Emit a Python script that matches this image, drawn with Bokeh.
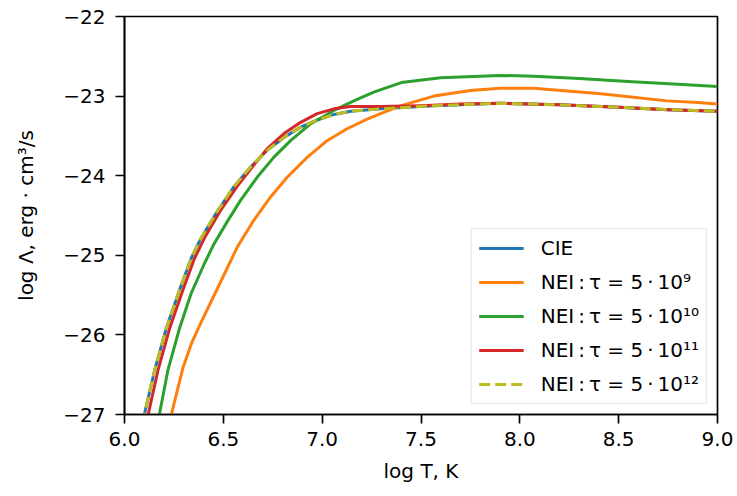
from bokeh.plotting import figure
from bokeh.models import FixedTicker, Range1d, Legend, LegendItem
from bokeh.embed import file_html
from bokeh.resources import INLINE

# ---- data ----
t_cie = [6.090, 6.152, 6.211, 6.278, 6.337, 6.384, 6.469, 6.553, 6.638, 6.722,
         6.807, 6.891, 6.975, 7.060, 7.144, 7.296, 7.565, 7.900, 8.200, 8.500, 8.750, 9.000]
l_cie = [-27.11, -26.45, -25.92, -25.44, -25.04, -24.80, -24.45, -24.14, -23.89, -23.68,
         -23.52, -23.39, -23.30, -23.23, -23.19, -23.16, -23.12, -23.09, -23.11, -23.14, -23.17, -23.19]

t_nei9 = [6.226, 6.295, 6.340, 6.388, 6.489, 6.570, 6.654, 6.738, 6.823, 6.924, 7.025, 7.126,
          7.228, 7.295, 7.400, 7.565, 7.750, 7.900, 8.070, 8.410, 8.745, 8.900, 9.000]
l_nei9 = [-27.11, -26.42, -26.10, -25.84, -25.32, -24.90, -24.56, -24.27, -24.02, -23.77, -23.56, -23.41,
          -23.29, -23.22, -23.12, -23.00, -22.93, -22.90, -22.90, -22.97, -23.06, -23.08, -23.10]

t_nei10 = [6.168, 6.219, 6.278, 6.337, 6.405, 6.452, 6.519, 6.587, 6.671, 6.755, 6.840,
           6.941, 7.059, 7.160, 7.261, 7.400, 7.600, 7.900, 8.070, 8.300, 8.570, 8.800, 9.000]
l_nei10 = [-27.11, -26.45, -25.92, -25.48, -25.10, -24.86, -24.58, -24.31, -24.02, -23.77, -23.56,
           -23.35, -23.18, -23.06, -22.95, -22.83, -22.77, -22.74, -22.75, -22.78, -22.82, -22.85, -22.88]

t_nei11 = [6.110, 6.169, 6.228, 6.295, 6.354, 6.405, 6.485, 6.568, 6.650, 6.722, 6.807,
           6.891, 6.975, 7.060, 7.144, 7.296, 7.500, 7.700, 7.900, 8.200, 8.500, 8.750, 9.000]
l_nei11 = [-27.11, -26.45, -25.92, -25.44, -25.04, -24.78, -24.44, -24.14, -23.88, -23.66, -23.47,
           -23.33, -23.22, -23.16, -23.13, -23.13, -23.12, -23.10, -23.09, -23.11, -23.14, -23.17, -23.19]

t_nei12 = list(t_cie)
l_nei12 = list(l_cie)

x_ticks = [6.0, 6.5, 7.0, 7.5, 8.0, 8.5, 9.0]
y_ticks = [-27, -26, -25, -24, -23, -22]

TS = "\u2009"  # thin space
labels = ["CIE",
          f"NEI{TS}:{TS}τ = 5{TS}·{TS}10⁹",
          f"NEI{TS}:{TS}τ = 5{TS}·{TS}10¹⁰",
          f"NEI{TS}:{TS}τ = 5{TS}·{TS}10¹¹",
          f"NEI{TS}:{TS}τ = 5{TS}·{TS}10¹²"]
colors = ["#1f77b4", "#ff7f0e", "#2ca02c", "#d62728", "#bcbd22"]

FONT = "DejaVu Sans"

p = figure(frame_width=593, frame_height=398,
           min_border_left=124, min_border_right=16, min_border_top=16, min_border_bottom=80,
           x_range=Range1d(6.0, 9.0), y_range=Range1d(-27, -22),
           output_backend="svg", toolbar_location=None)

p.xgrid.visible = False
p.ygrid.visible = False
p.outline_line_color = "black"
p.outline_line_width = 1.7
p.outline_line_alpha = 1.0

series = [(t_cie, l_cie, None), (t_nei9, l_nei9, None), (t_nei10, l_nei10, None),
          (t_nei11, l_nei11, None), (t_nei12, l_nei12, "11 5")]
renderers = []
for (xs, ys, dash), c in zip(series, colors):
    kw = dict(line_color=c, line_width=3, line_join="round")
    if dash:
        kw["line_dash"] = dash
    renderers.append(p.line(xs, ys, **kw))

items = [LegendItem(label=lab, renderers=[r]) for lab, r in zip(labels, renderers)]
legend = Legend(items=items, location="bottom_right")
legend.label_text_font = FONT
legend.label_text_font_size = "20px"
legend.label_text_color = "black"
legend.glyph_width = 45
legend.glyph_height = 20
legend.label_standoff = 17
legend.spacing = 10
legend.padding = 7
legend.margin = 10
legend.border_line_color = "#cccccc"
legend.border_line_width = 1.5
legend.background_fill_color = "white"
legend.background_fill_alpha = 0.8
p.add_layout(legend)

for ax in (p.xaxis[0], p.yaxis[0]):
    ax.axis_line_width = 1.7
    ax.major_tick_line_width = 1.7
    ax.major_tick_out = 9
    ax.major_tick_in = 0
    ax.minor_tick_out = 0
    ax.minor_tick_in = 0
    ax.major_label_text_font = FONT
    ax.major_label_text_font_size = "20px"
    ax.major_label_text_color = "black"
    ax.axis_label_text_font = FONT
    ax.axis_label_text_font_size = "20px"
    ax.axis_label_text_font_style = "normal"
    ax.axis_label_text_color = "black"

p.xaxis.ticker = FixedTicker(ticks=x_ticks)
p.yaxis.ticker = FixedTicker(ticks=y_ticks)
p.xaxis.major_label_overrides = {t: f"{t:.1f}" for t in x_ticks}
p.yaxis.major_label_overrides = {t: f"{t}".replace("-", "\u2212") for t in y_ticks}
p.xaxis.major_label_standoff = 8
p.yaxis.major_label_standoff = 10
p.xaxis.axis_label = "log T, K"
p.yaxis.axis_label = "log Λ, erg · cm³/s"
p.xaxis.axis_label_standoff = 10
p.yaxis.axis_label_standoff = 22

open("out.html", "w").write(file_html(p, INLINE))
